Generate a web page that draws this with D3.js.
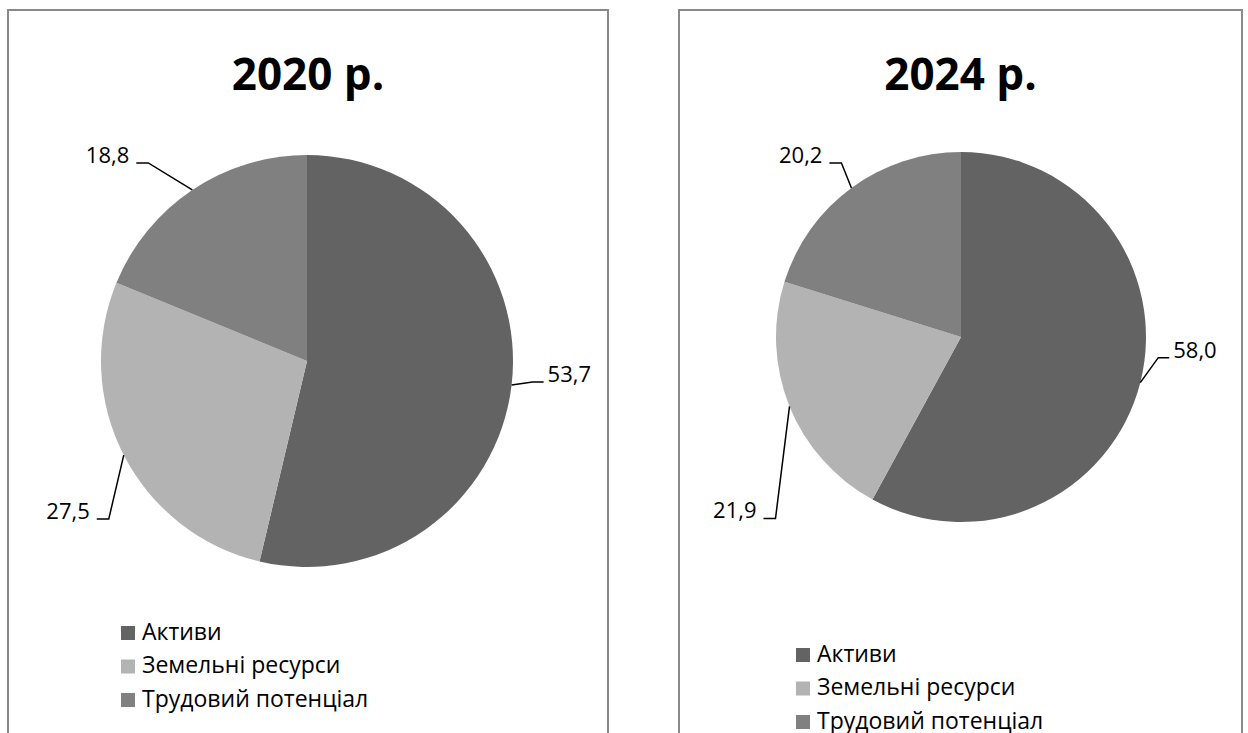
<!DOCTYPE html>
<html>
<head>
<meta charset="utf-8">
<script src="https://cdn.jsdelivr.net/npm/d3@7"></script>
<style>
  body { margin: 0; background: #fff; }
  svg { display: block; }
</style>
</head>
<body>
<div id="chart"></div>
<script>
// data
const categories = ["Активи", "Земельні ресурси", "Трудовий потенціал"];
const titles = ["2020 р.", "2024 р."];
const values2020 = [53.7, 27.5, 18.8];
const values2024 = [58.0, 21.9, 20.2];

const colors = ["#636363", "#b3b3b3", "#808080"];

// panel layout (pixels)
const panels = [
  { x: 8, w: 600, cx: 307, cy: 361, r: 206, titleY: 90, legendX: 121, legendY: 626,
    // label offset from the slice edge point: dx, dy, side
    labels: [[36, -3, 1], [-34, 64, -1], [-63, -27, -1]] },
  { x: 679, w: 563, cx: 961, cy: 337, r: 185, titleY: 90, legendX: 796, legendY: 648,
    labels: [[33, -25, 1], [-33, 112, -1], [-29, -25, -1]] }
];

const width = 1248, height = 733;
const font = "'Open Sans', 'Noto Sans', sans-serif";
const fmt = d3.formatLocale({ decimal: ",", thousands: " ", grouping: [3], currency: ["", ""] }).format(".1f");

const svg = d3.select("#chart").append("svg")
  .attr("width", width)
  .attr("height", height);

const color = d3.scaleOrdinal().domain(categories).range(colors);

function drawPanel(p, title, values) {
  const g = svg.append("g");

  // frame (bottom runs off the page)
  g.append("rect")
    .attr("x", p.x).attr("y", 10)
    .attr("width", p.w).attr("height", height + 20)
    .attr("fill", "#fff")
    .attr("stroke", "#898989")
    .attr("stroke-width", 2);

  g.append("text")
    .attr("x", p.x + p.w / 2)
    .attr("y", p.titleY)
    .attr("text-anchor", "middle")
    .attr("font-family", font)
    .attr("font-weight", "bold")
    .attr("font-size", "44px")
    .text(title);

  const data = categories.map((c, i) => ({ name: c, value: values[i] }));
  const pie = d3.pie().sort(null).value(d => d.value);
  const arc = d3.arc().innerRadius(0).outerRadius(p.r);
  const arcs = pie(data);

  const pg = g.append("g").attr("transform", `translate(${p.cx},${p.cy})`);

  pg.selectAll("path")
    .data(arcs)
    .enter()
    .append("path")
    .attr("d", arc)
    .attr("fill", d => color(d.data.name));

  // leader lines + labels
  arcs.forEach((d, i) => {
    const mid = (d.startAngle + d.endAngle) / 2;
    const ex = Math.sin(mid) * p.r;
    const ey = -Math.cos(mid) * p.r;
    const [dx, dy, side] = p.labels[i];
    const tx = ex + dx, ty = ey + dy;
    const pts = side > 0
      ? [[ex, ey], [tx - 15, ty], [tx - 4, ty]]
      : [[ex, ey], [tx + 19, ty], [tx + 7, ty]];

    pg.append("path")
      .attr("d", d3.line()(pts))
      .attr("fill", "none")
      .attr("stroke", "#000")
      .attr("stroke-width", 1.5);

    pg.append("text")
      .attr("x", tx)
      .attr("y", ty)
      .attr("text-anchor", side > 0 ? "start" : "end")
      .attr("font-family", font)
      .attr("font-size", "22px")
      .attr("fill", "#000")
      .text(fmt(d.data.value));
  });

  // legend
  const lg = g.append("g").attr("transform", `translate(${p.legendX},${p.legendY})`);
  const rows = lg.selectAll("g")
    .data(categories)
    .enter()
    .append("g")
    .attr("transform", (d, i) => `translate(0,${i * 33.5})`);

  rows.append("rect")
    .attr("width", 14).attr("height", 14)
    .attr("fill", d => color(d));

  rows.append("text")
    .attr("x", 21)
    .attr("y", 13.5)
    .attr("font-family", font)
    .attr("font-size", "23px")
    .attr("fill", "#000")
    .text(d => d);
}

drawPanel(panels[0], titles[0], values2020);
drawPanel(panels[1], titles[1], values2024);
</script>
</body>
</html>
